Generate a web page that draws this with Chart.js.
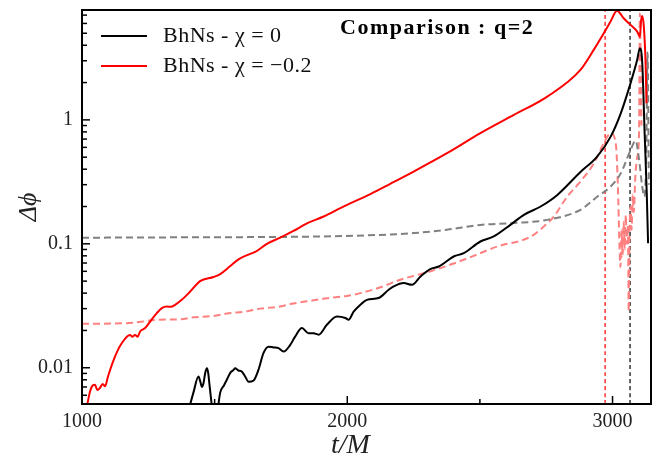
<!DOCTYPE html>
<html><head><meta charset="utf-8">
<script src="https://cdn.jsdelivr.net/npm/chart.js@4.4.1/dist/chart.umd.min.js"></script>
<style>html,body{margin:0;padding:0;background:#fff;overflow:hidden}</style>
</head><body>
<canvas id="c" width="662" height="460"></canvas>
<script>
// ---- data ----
const xTicks = [1000, 2000, 3000];
const xTickLabels = ['1000', '2000', '3000'];
const xMinorTicks = [1500, 2500];
const yTicks = [0.01, 0.1, 1];
const yTickLabels = ['0.01', '0.1', '1'];
const xRange = [1000, 3145];
const yRange = [0.0051, 7.7];
const seriesLabels = ['BhNs - χ = 0', 'BhNs - χ = −0.2'];
const titleText = 'Comparison : q=2';
const xTitle = 't/M';
const yTitle = 'Δϕ';

const blackT = [1395,1420,1439,1447,1452,1458,1465,1471,1476,1480,1489,1495,1508,1515,1521,1535,1546,1559,1571,1577,1590,1603,1615,1628,1647,1665,1684,1703,1722,1741,1760,1785,1804,1829,1854,1873,1892,1923,1961,1993,2005,2024,2049,2074,2118,2156,2175,2213,2244,2276,2313,2345,2401,2439,2502,2552,2615,2666,2729,2792,2879,2942,2993,3031,3068,3093,3103,3112,3121,3129,3134];
const blackPhi = [0.0040,0.0063,0.0085,0.0076,0.0070,0.0075,0.0092,0.0099,0.0090,0.0075,0.0050,0.0038,0.0040,0.0052,0.0063,0.0072,0.0080,0.0091,0.0096,0.0099,0.0095,0.0093,0.0085,0.0077,0.0079,0.0096,0.0131,0.0148,0.0146,0.0144,0.0135,0.0153,0.0179,0.0209,0.0190,0.0190,0.0185,0.0222,0.0259,0.0252,0.0244,0.0284,0.0322,0.0353,0.0365,0.0426,0.0453,0.0482,0.0467,0.0545,0.0625,0.0656,0.079,0.0841,0.1044,0.1146,0.1423,0.1714,0.2,0.248,0.38,0.506,0.733,1.13,1.98,3.05,3.79,2.87,0.78,0.256,0.101];

const redT = [1005,1018,1030,1040,1049,1058,1068,1078,1087,1098,1117,1136,1151,1170,1181,1190,1200,1210,1219,1238,1257,1282,1301,1320,1335,1351,1376,1408,1445,1496,1521,1558,1590,1634,1653,1697,1747,1797,1848,1911,1974,2011,2087,2162,2250,2376,2502,2628,2754,2879,2929,2967,2992,3017,3042,3068,3093,3103,3108,3112,3118,3125,3128];
const redPhi = [0.0045,0.0049,0.0064,0.0072,0.0073,0.0066,0.0069,0.0074,0.0071,0.0085,0.0112,0.0140,0.0159,0.0179,0.0184,0.0178,0.0184,0.0178,0.0196,0.0209,0.0236,0.0276,0.0303,0.0312,0.0310,0.0322,0.0353,0.0412,0.050,0.054,0.057,0.066,0.075,0.083,0.086,0.100,0.112,0.127,0.146,0.166,0.194,0.212,0.252,0.305,0.383,0.539,0.782,1.097,1.541,2.53,3.67,5.0,6.2,7.6,6.61,5.84,5.15,4.69,6.4,6.9,5.65,2.69,1.36];

const grayT = [1000,1445,1823,2125,2250,2376,2502,2628,2754,2879,2942,2993,3031,3068,3087,3100,3112,3120,3127,3132,3137];
const grayPhi = [0.112,0.113,0.114,0.118,0.122,0.130,0.142,0.147,0.156,0.188,0.24,0.29,0.37,0.57,0.68,0.48,0.29,0.24,0.5,3.5,0.3];

const pinkT = [1000,1169,1294,1370,1420,1496,1546,1621,1672,1747,1797,1873,1923,2000,2049,2125,2200,2313,2439,2565,2691,2741,2779,2829,2879,2930,2967,2993,3012,3020,3026,3030,3034,3038,3042,3046,3050,3054,3058,3061,3064,3068,3072,3076,3080,3086,3093,3100,3103,3106,3109];
const pinkPhi = [0.0226,0.0229,0.0244,0.0246,0.0255,0.0262,0.0274,0.0285,0.0300,0.0312,0.0330,0.0350,0.0364,0.0380,0.0400,0.0446,0.0513,0.0599,0.0743,0.095,0.114,0.138,0.166,0.24,0.318,0.447,0.649,0.78,0.649,0.30,0.10,0.065,0.13,0.08,0.15,0.09,0.17,0.10,0.14,0.0284,0.12,0.20,0.13,0.25,0.18,0.35,0.50,0.78,7.2,3.0,0.9];

const redMergerT = 2972;
const blackMergerT = 3066;

// ---- helpers ----
const pts = (t, v) => t.map((x, i) => ({x: x, y: v[i]}));
const serif = "'Liberation Serif','DejaVu Serif',serif";

const decorPlugin = {
  id: 'decor',
  afterDraw(chart) {
    const {ctx, chartArea: a, scales: {x, y}} = chart;
    ctx.save();
    ctx.strokeStyle = '#000';
    ctx.lineWidth = 2;
    ctx.strokeRect(a.left, a.top, a.right - a.left, a.bottom - a.top);
    ctx.lineWidth = 1.5;
    const tick = (x1, y1, x2, y2) => { ctx.beginPath(); ctx.moveTo(x1, y1); ctx.lineTo(x2, y2); ctx.stroke(); };
    xTicks.forEach(v => { const p = x.getPixelForValue(v); tick(p, a.bottom, p, a.bottom - 8); });
    xMinorTicks.forEach(v => { const p = x.getPixelForValue(v); tick(p, a.bottom, p, a.bottom - 5); });
    yTicks.forEach(v => { const p = y.getPixelForValue(v); tick(a.left, p, a.left + 8, p); });
    for (let k = -3; k <= 0; k++) {
      for (let m = 2; m <= 9; m++) {
        const v = m * Math.pow(10, k);
        if (v > yRange[0] && v < yRange[1]) { const p = y.getPixelForValue(v); tick(a.left, p, a.left + 5, p); }
      }
    }
    ctx.textBaseline = 'middle';
    // x-axis title
    ctx.fillStyle = '#222';
    ctx.textAlign = 'center';
    ctx.font = "italic 28px " + serif;
    ctx.fillText(xTitle, (a.left + a.right) / 2 - 16, a.bottom + 42);
    // title inside plot
    ctx.textAlign = 'left';
    ctx.fillStyle = '#000';
    ctx.font = "bold 22px " + serif;
    try { ctx.letterSpacing = '1.5px'; } catch (e) {}
    ctx.fillText(titleText, a.left + 258, a.top + 18);
    try { ctx.letterSpacing = '0.5px'; } catch (e) {}
    const cols = [chart.data.datasets[0].borderColor, chart.data.datasets[1].borderColor];
    ctx.font = "22px " + serif;
    seriesLabels.forEach((lab, i) => {
      const yy = a.top + 26 + i * 30;
      ctx.strokeStyle = cols[i];
      ctx.lineWidth = 2;
      tick(a.left + 19, yy, a.left + 65, yy);
      ctx.fillStyle = '#111';
      ctx.fillText(lab, a.left + 81, yy);
    });
    ctx.restore();
  }
};

new Chart(document.getElementById('c'), {
  type: 'line',
  data: {
    datasets: [
      {label: seriesLabels[0], data: pts(blackT, blackPhi), borderColor: '#000000', borderWidth: 2},
      {label: seriesLabels[1], data: pts(redT, redPhi), borderColor: '#ff0000', borderWidth: 2},
      {label: 'gray', data: pts(grayT, grayPhi), borderColor: '#808080', borderWidth: 2, borderDash: [7, 4]},
      {label: 'pink', data: pts(pinkT, pinkPhi), borderColor: '#ff8080', borderWidth: 2, borderDash: [7, 4]},
      {label: 'vr', data: [{x: redMergerT, y: yRange[0]}, {x: redMergerT, y: yRange[1]}], borderColor: '#ff0000', borderWidth: 1.2, borderDash: [4, 3]},
      {label: 'vb', data: [{x: blackMergerT, y: yRange[0]}, {x: blackMergerT, y: yRange[1]}], borderColor: '#000000', borderWidth: 1.2, borderDash: [4, 3]}
    ]
  },
  options: {
    responsive: false,
    animation: false,
    events: [],
    elements: {point: {radius: 0}, line: {tension: 0, fill: false, cubicInterpolationMode: 'monotone'}},
    layout: {padding: {top: 10, right: 11, left: 0, bottom: 0}},
    plugins: {legend: {display: false}, tooltip: {enabled: false}, title: {display: false}},
    scales: {
      x: {
        type: 'linear', min: xRange[0], max: xRange[1],
        grid: {display: false, drawTicks: false},
        border: {display: false},
        afterBuildTicks: s => { s.ticks = xTicks.map(v => ({value: v})); },
        afterFit: s => { s.height = 56; s.paddingLeft = 0; s.paddingRight = 0; },
        ticks: {autoSkip: false, maxRotation: 0, padding: 6, color: '#222', font: {family: serif, size: 20},
          callback: (v, i) => xTickLabels[i]},
        title: {display: false}
      },
      y: {
        type: 'logarithmic', min: yRange[0], max: yRange[1],
        grid: {display: false, drawTicks: false},
        border: {display: false},
        afterBuildTicks: s => { s.ticks = yTicks.map(v => ({value: v})); },
        afterFit: s => { s.width = 82; s.paddingTop = 0; s.paddingBottom = 0; },
        ticks: {autoSkip: false, padding: 9, color: '#222', font: {family: serif, size: 20},
          callback: (v, i) => yTickLabels[i]},
        title: {display: true, text: yTitle, color: '#222', font: {family: serif, size: 26, style: 'italic'}, padding: {top: 14, bottom: 0}}
      }
    }
  },
  plugins: [decorPlugin]
});
</script>
</body></html>
